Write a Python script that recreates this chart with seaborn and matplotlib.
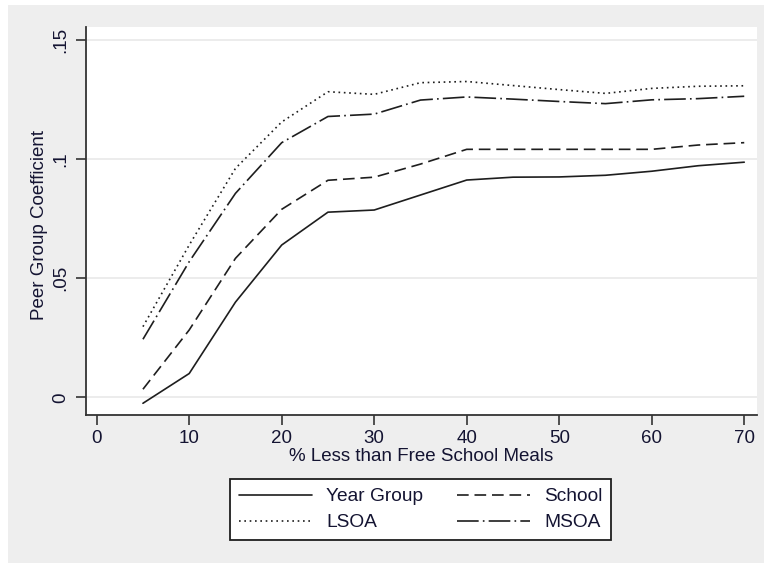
import numpy as np
import pandas as pd
import seaborn as sns
import matplotlib
matplotlib.use("Agg")
from matplotlib import pyplot as plt
from matplotlib.patches import Rectangle

# % less than free school meals
fsm_pct = [5, 10, 15, 20, 25, 30, 35, 40, 45, 50, 55, 60, 65, 70]

year_group = [-0.0025, 0.010, 0.040, 0.064, 0.0778, 0.0787, 0.085, 0.0913,
              0.0925, 0.0926, 0.0933, 0.095, 0.0973, 0.0988]
school = [0.0034, 0.0283, 0.0584, 0.079, 0.0912, 0.0925, 0.098, 0.1042,
          0.1042, 0.1042, 0.1042, 0.1042, 0.106, 0.107]
lsoa = [0.0297, 0.064, 0.0962, 0.1157, 0.1284, 0.1273, 0.1322, 0.1327,
        0.131, 0.1293, 0.1277, 0.1298, 0.1307, 0.1309]
msoa = [0.0244, 0.057, 0.0857, 0.107, 0.118, 0.119, 0.1249, 0.1262,
        0.1253, 0.1243, 0.1234, 0.125, 0.1255, 0.1265]

series_names = ["Year Group", "School", "LSOA", "MSOA"]
x_ticks = [0, 10, 20, 30, 40, 50, 60, 70]
y_ticks = [0, 0.05, 0.1, 0.15]
y_ticklabels = ["0", ".05", ".1", ".15"]

df = pd.DataFrame({
    "fsm": fsm_pct * 4,
    "coef": year_group + school + lsoa + msoa,
    "series": np.repeat(series_names, len(fsm_pct)),
})

sns.set_style("white")
plt.rcParams["font.family"] = ["Liberation Sans", "DejaVu Sans"]
txt_col = "#141432"

fig = plt.figure(figsize=(7.64, 5.63), dpi=100, facecolor="white")
# stata-like grey graph region
fig.patches.append(Rectangle((8 / 764, 0), 1, 1 - 5 / 563, transform=fig.transFigure,
                             facecolor="#eeeeee", edgecolor="none", zorder=-10))
ax = fig.add_axes([86 / 764, 1 - 414.7 / 563, (757 - 86) / 764, (414.7 - 27) / 563])
ax.set_facecolor("white")

dashes = {"Year Group": "", "School": (7, 3.5), "LSOA": (1, 2.2), "MSOA": (13, 2.5, 1, 2.5)}
palette = {s: "#1e1e1e" for s in series_names}
sns.lineplot(data=df, x="fsm", y="coef", hue="series", style="series",
             hue_order=series_names, style_order=series_names,
             palette=palette, dashes=dashes, linewidth=1.2, ax=ax)

ax.set_xlim(-1.157, 71.38)
ax.set_ylim(-0.0073, 0.1556)
ax.set_xticks(x_ticks)
ax.set_yticks(y_ticks)
ax.set_yticklabels(y_ticklabels, rotation=90, va="center")
ax.tick_params(axis="both", direction="out", length=7, width=1.2, color="#333333",
               labelsize=13.5, labelcolor=txt_col, pad=5, left=True, bottom=True)
ax.tick_params(axis="x", pad=4)
ax.grid(axis="y", color="#ebebeb", linewidth=1.3)
ax.grid(axis="x", visible=False)
for side in ["top", "right"]:
    ax.spines[side].set_visible(False)
for side in ["left", "bottom"]:
    ax.spines[side].set_color("#333333")
    ax.spines[side].set_linewidth(1.3)

ax.set_xlabel("% Less than Free School Meals", fontsize=13.5, color=txt_col)
ax.set_ylabel("Peer Group Coefficient", fontsize=13.5, color=txt_col)
ax.xaxis.set_label_coords(0.5, -0.1085)
ax.xaxis.label.set_va("center")
ax.yaxis.set_label_coords(-0.0686, 0.49)
ax.yaxis.label.set_va("center")

handles, labels = ax.get_legend_handles_labels()
ax.get_legend().remove()
lookup = dict(zip(labels, handles))
order = ["Year Group", "LSOA", "School", "MSOA"]
leg = fig.legend([lookup[k] for k in order], order, loc="center",
                 bbox_to_anchor=(420.8 / 764, 1 - 509.6 / 563), ncol=2,
                 fontsize=13.8, frameon=True, fancybox=False, shadow=False,
                 handlelength=3.8, handletextpad=0.75, columnspacing=1.75,
                 labelspacing=0.45, borderpad=0.45)
leg.get_frame().set_edgecolor("#1e1e1e")
leg.get_frame().set_linewidth(1.3)
leg.get_frame().set_facecolor("white")
leg.get_frame().set_alpha(1)
for t in leg.get_texts():
    t.set_color(txt_col)

fig.savefig("out.png", dpi=100, facecolor="white")
